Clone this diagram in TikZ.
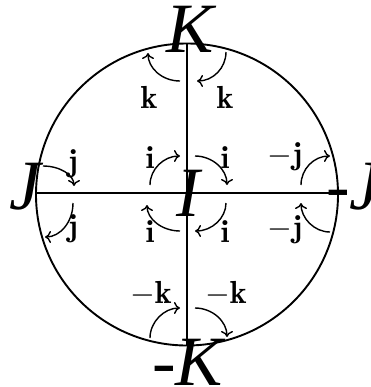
\RequirePackage{fix-cm}
\documentclass[tikz,border=0pt]{standalone}
\usepackage{fontspec}
\newfontfamily\tnr{Liberation Serif}
\usetikzlibrary{arrows.meta}
\tikzset{
  big/.style={inner sep=0pt, font=\tnr\itshape\fontsize{71}{80}\selectfont},
  lab/.style={inner sep=0pt, anchor=base, font=\fontsize{32}{38}\selectfont},
  rot/.style={line width=1.4bp, -{To[length=6bp,width=12bp]}},
}
\begin{document}
\begin{tikzpicture}[x=1bp,y=-1bp]
\useasboundingbox (0,0) rectangle (371,387);
\coordinate (O) at (187,194.5);
\coordinate (T) at (187,43.5);
\coordinate (B) at (187,345.5);
\coordinate (L) at (36,193);
\coordinate (R) at (338,193);
\draw[line width=1.9bp] (O) circle (151);
\draw[line width=1.4bp] (T) -- (B);
\draw[line width=1.4bp] (L) -- (R);

% big labels
\node[big, anchor=base] (K) at (190,52) {K};
\node[big, anchor=base] (J) at (25,209) {J};
\node[big, anchor=base] (I) at (188,216) {I};
\node[big, anchor=base west] (mJ) at (326,209) {-J};
\node[big, anchor=base west] (mK) at (152,385) {-K};

% small labels
\node[lab] (k1) at (149,108) {$\mathbf{k}$};
\node[lab] (k2) at (225,108) {$\mathbf{k}$};
\node[lab] (i1) at (150,168) {$\mathbf{i}$};
\node[lab] (i2) at (225,168) {$\mathbf{i}$};
\node[lab] (i3) at (150,242) {$\mathbf{i}$};
\node[lab] (i4) at (225,242) {$\mathbf{i}$};
\node[lab] (j1) at (73,171) {$\mathbf{j}$};
\node[lab] (j2) at (73,236) {$\mathbf{j}$};
\node[lab] (mj1) at (285,164) {$-\mathbf{j}$};
\node[lab] (mj2) at (285,237) {$-\mathbf{j}$};
\node[lab] (mk1) at (151,303) {$-\mathbf{k}$};
\node[lab] (mk2) at (226,303) {$-\mathbf{k}$};

% rotation arrows
\draw[rot] (180,81) .. controls (162,81) and (148,68) .. (148,53);
\draw[rot] (226,52) .. controls (226,68) and (213,81) .. (197,81);
\draw[rot] (43,166) .. controls (60,166) and (74,175) .. (74,186);
\draw[rot] (73,203) .. controls (73,222) and (60,237) .. (45,237);
\draw[rot] (150,185) .. controls (150,169) and (164,156) .. (180,156);
\draw[rot] (195,156) .. controls (212,156) and (227,169) .. (227,185);
\draw[rot] (226,203) .. controls (226,218) and (212,231) .. (195,231);
\draw[rot] (180,231) .. controls (162,231) and (147,219) .. (147,205);
\draw[rot] (301,185) .. controls (301,169) and (314,156) .. (330,156);
\draw[rot] (330,232) .. controls (314,232) and (301,218) .. (301,203);
\draw[rot] (150,338) .. controls (150,322) and (164,308) .. (180,308);
\draw[rot] (195,308) .. controls (212,308) and (227,321) .. (227,337);
\end{tikzpicture}
\end{document}
